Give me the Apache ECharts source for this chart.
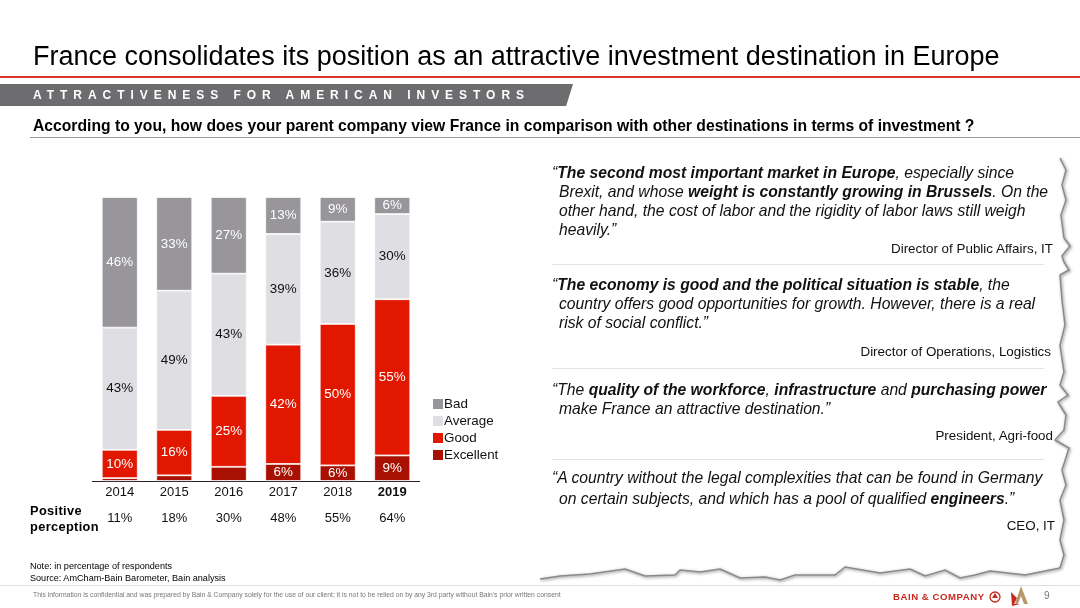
<!DOCTYPE html>
<html lang="en">
<head>
    <title>France attractiveness</title>
    <meta charset="utf-8" />
    <script src="https://cdn.jsdelivr.net/npm/echarts@6/dist/echarts.min.js"></script>
    <style>
        html, body { margin:0; padding:0; background:#fff; }
        body { width:1080px; height:608px; overflow:hidden; position:relative; font-family:"Liberation Sans", Arial, sans-serif; color:#000; }
        #main { position:absolute; left:0; top:0; width:1080px; height:608px; }
        .t { position:absolute; white-space:nowrap; line-height:1; z-index:2; }
        .q { font-size:15.7px; font-style:italic; color:#111; }
        .a { font-size:13.4px; color:#111; }
        .rule { position:absolute; height:1px; background:#e4e4e4; z-index:2; }
    </style>
</head>
<body>
<div id="main"></div>

<div class="t" style="left:33px;top:43px;font-size:27px">France consolidates its position as an attractive investment destination in Europe</div>
<div style="position:absolute;left:0;top:76px;width:1080px;height:2px;background:#d9362b;z-index:2"></div>
<div style="position:absolute;left:0;top:84px;width:573px;height:22px;background:#6d6d70;clip-path:polygon(0 0,100% 0,98.8% 100%,0 100%);z-index:1"></div>
<div class="t" style="left:33px;top:89px;font-size:12px;font-weight:bold;color:#fff;letter-spacing:5.96px">ATTRACTIVENESS FOR AMERICAN INVESTORS</div>
<div class="t" style="left:33px;top:118px;font-size:15.7px;font-weight:bold">According to you, how does your parent company view France in comparison with other destinations in terms of investment ?</div>
<div style="position:absolute;left:30px;top:137px;width:1050px;height:1px;background:#999;z-index:2"></div>

<div class="t q" style="left:552px;top:165px">“<b>The second most important market in Europe</b>, especially since</div>
<div class="t q" style="left:559px;top:184px">Brexit, and whose <b>weight is constantly growing in Brussels</b>. On the</div>
<div class="t q" style="left:559px;top:203px">other hand, the cost of labor and the rigidity of labor laws still weigh</div>
<div class="t q" style="left:559px;top:222px">heavily.”</div>
<div class="t a" style="right:27px;top:242px">Director of Public Affairs, IT</div>
<div class="rule" style="left:552px;top:264px;width:492px"></div>

<div class="t q" style="left:552px;top:277px">“<b>The economy is good and the political situation is stable</b>, the</div>
<div class="t q" style="left:559px;top:296px">country offers good opportunities for growth. However, there is a real</div>
<div class="t q" style="left:559px;top:315px">risk of social conflict.”</div>
<div class="t a" style="right:29px;top:345px">Director of Operations, Logistics</div>
<div class="rule" style="left:552px;top:368px;width:492px"></div>

<div class="t q" style="left:552px;top:382px">“The <b>quality of the workforce</b>, <b>infrastructure</b> and <b>purchasing power</b></div>
<div class="t q" style="left:559px;top:401px">make France an attractive destination.”</div>
<div class="t a" style="right:27px;top:429px">President, Agri-food</div>
<div class="rule" style="left:552px;top:459px;width:492px"></div>

<div class="t q" style="left:552px;top:470px">“A country without the legal complexities that can be found in Germany</div>
<div class="t q" style="left:559px;top:491px">on certain subjects, and which has a pool of qualified <b>engineers</b>.”</div>
<div class="t a" style="right:25px;top:519px">CEO, IT</div>

<div class="t" style="left:30px;top:503px;font-size:12.8px;font-weight:bold;line-height:16px;letter-spacing:.35px;white-space:pre-line">Positive
perception</div>

<div class="t" style="left:30px;top:561px;font-size:9.1px;line-height:11.5px;white-space:pre-line">Note: in percentage of respondents
Source: AmCham-Bain Barometer, Bain analysis</div>
<div style="position:absolute;left:0;top:585px;width:1080px;height:1px;background:#ddd;z-index:2"></div>
<div class="t" style="left:33px;top:592px;font-size:6.8px;color:#777">This information is confidential and was prepared by Bain &amp; Company solely for the use of our client; it is not to be relied on by any 3rd party without Bain's prior written consent</div>
<div class="t" style="left:893px;top:592px;font-size:9.6px;font-weight:bold;color:#c8281e;letter-spacing:.55px">BAIN &amp; COMPANY</div>
<div class="t" style="left:1044px;top:591px;font-size:10px;color:#777">9</div>

<script>
    let categories = ['2014', '2015', '2016', '2017', '2018', '2019']
    let positive = ['11%', '18%', '30%', '48%', '55%', '64%']
    let excellent = [1, 2, 5, 6, 5.5, 9]
    let good = [10, 16, 25, 42, 49.8, 55]
    let average = [43, 49, 43, 39, 36, 30]
    let bad = [46, 33, 27, 13, 8.7, 6]

    let tornRight = [[1060,158],[1066,170],[1062,185],[1066,200],[1061,215],[1064,238],[1070,246],[1062,256],[1064,262],[1069,270],[1060,275],[1062,300],[1065,325],[1060,345],[1061,352],[1064,372],[1060,385],[1068,395],[1058,402],[1066,415],[1064,430],[1055,440],[1069,448],[1062,470],[1066,485],[1060,500],[1064,520],[1060,540],[1064,555],[1060,568]]
    let tornBottom = [[1060,568],[1040,572],[1025,575],[990,571],[975,575],[960,578],[945,570],[925,576],[910,569],[880,573],[845,567],[835,575],[795,575],[780,580],[765,577],[740,578],[720,569],[700,572],[680,570],[675,575],[645,576],[625,569],[590,574],[560,576],[540,579]]

    function tornLine(points) {
        return {
            type: 'polyline',
            shape: { points: points },
            style: { fill: null, stroke: '#8a8a8a', lineWidth: 1.5, shadowBlur: 3, shadowColor: 'rgba(0,0,0,0.5)', shadowOffsetX: 1, shadowOffsetY: 1 },
            silent: true
        }
    }

    function barLabel(color) {
        return {
            show: true,
            color: color,
            fontSize: 13.4,
            fontFamily: 'Liberation Sans',
            formatter: function (p) {
                return p.value < 5.5 ? '' : Math.round(p.value) + '%'
            }
        }
    }

    function barSeries(name, data, color, labelColor) {
        return {
            name: name,
            type: 'bar',
            stack: 'total',
            barWidth: 36,
            data: data,
            itemStyle: { color: color, borderColor: '#fff', borderWidth: 0.8 },
            label: barLabel(labelColor),
            silent: true
        }
    }

    let chart = echarts.init(document.getElementById('main'), null, { renderer: 'canvas' })

    chart.setOption({
        animation: false,
        textStyle: { fontFamily: 'Liberation Sans' },
        grid: { left: 92.5, top: 197, width: 327, height: 284, containLabel: false },
        legend: {
            left: 431,
            top: 397,
            orient: 'vertical',
            itemWidth: 12,
            itemHeight: 12,
            itemGap: 3,
            padding: 0,
            icon: 'rect',
            selectedMode: false,
            data: ['Bad', 'Average', 'Good', 'Excellent'],
            textStyle: { fontSize: 13.4, color: '#111', padding: [0, 0, 0, -5] }
        },
        xAxis: [
            {
                type: 'category',
                data: categories,
                axisTick: { show: false },
                axisLine: { lineStyle: { color: '#222', width: 1 } },
                axisLabel: {
                    interval: 0,
                    color: '#111',
                    fontSize: 13,
                    margin: 5,
                    formatter: function (v) { return v === '2019' ? '{b|' + v + '}' : v },
                    rich: { b: { fontWeight: 'bold', fontSize: 13, color: '#111' } }
                }
            },
            {
                type: 'category',
                position: 'bottom',
                offset: 31,
                data: positive,
                axisTick: { show: false },
                axisLine: { show: false },
                axisLabel: { interval: 0, color: '#111', fontSize: 13, margin: 0 }
            }
        ],
        yAxis: { type: 'value', min: 0, max: 100, show: false },
        series: [
            barSeries('Excellent', excellent, '#a81002', '#fff'),
            barSeries('Good', good, '#e21700', '#fff'),
            barSeries('Average', average, '#dfdee2', '#111'),
            barSeries('Bad', bad, '#98969a', '#fff')
        ],
        graphic: [
            tornLine(tornRight),
            tornLine(tornBottom),
            { type: 'circle', shape: { cx: 995, cy: 597, r: 5 }, style: { fill: null, stroke: '#c8281e', lineWidth: 1.3 }, silent: true },
            { type: 'polygon', shape: { points: [[995,593],[998,598],[992,598]] }, style: { fill: '#c8281e' }, silent: true },
            { type: 'polygon', shape: { points: [[1021,586],[1028,604],[1024,604],[1021,596],[1018,604],[1015,604]] }, style: { fill: '#b9986a' }, silent: true },
            { type: 'polygon', shape: { points: [[1011,592],[1017,598],[1014,604],[1020,604],[1012,606]] }, style: { fill: '#c8281e' }, silent: true }
        ]
    })
</script>
</body>
</html>
